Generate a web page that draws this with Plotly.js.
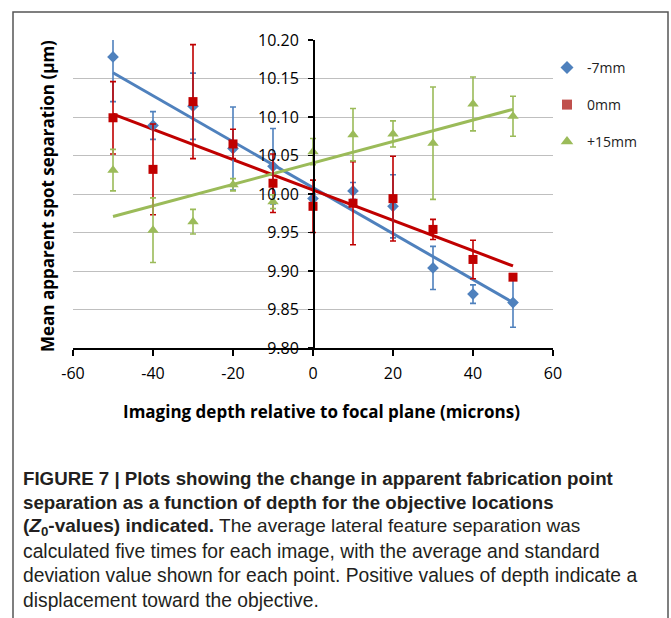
<!DOCTYPE html>
<html>
<head>
<meta charset="utf-8">
<script src="https://cdn.plot.ly/plotly-3.0.1.min.js"></script>
<style>
html,body{margin:0;padding:0;background:#fff;}
#chart{width:671px;height:618px;}
</style>
</head>
<body>
<div id="chart"></div>
<script>
// ---- data ----
const depth = [-50, -40, -30, -20, -10, 0, 10, 20, 30, 40, 50];
const m7Values = [10.178, 10.089, 10.114, 10.059, 10.036, 9.994, 10.004, 9.984, 9.904, 9.870, 9.859];
const m7Errors = [0.058, 0.018, 0.043, 0.054, 0.049, 0.006, 0.011, 0.041, 0.028, 0.012, 0.032];
const z0Values = [10.099, 10.032, 10.120, 10.065, 10.014, 9.984, 9.988, 9.994, 9.954, 9.915, 9.892];
const z0Errors = [0.047, 0.059, 0.074, 0.019, 0.038, 0.034, 0.054, 0.055, 0.013, 0.025, 0.004];
const p15Values = [10.031, 9.953, 9.964, 10.012, 9.990, 10.055, 10.077, 10.078, 10.066, 10.117, 10.101];
const p15Errors = [0.027, 0.042, 0.016, 0.008, 0.009, 0.017, 0.034, 0.017, 0.073, 0.035, 0.026];
const seriesNames = ['-7mm', '0mm', '+15mm'];
const xTickVals = [-60, -40, -20, 0, 20, 40, 60];
const xTickText = ['-60', '-40', '-20', '0', '20', '40', '60'];
const yTickVals = [9.80, 9.85, 9.90, 9.95, 10.00, 10.05, 10.10, 10.15, 10.20];
const captionLines = [
  '<b>FIGURE 7 | Plots showing the change in apparent fabrication point</b>',
  '<b>separation as a function of depth for the objective locations</b>',
  '<b>(<i>Z</i><sub>0</sub>-values) indicated.</b> The average lateral feature separation was',
  'calculated five times for each image, with the average and standard',
  'deviation value shown for each point. Positive values of depth indicate a',
  'displacement toward the objective.'
];
const captionSizes = [18.7, 18.7, 19, 19.3, 19.3, 19.3];

// least-squares linear trendline (as Excel computes it)
function fit(xs, ys) {
  const n = xs.length;
  const mx = xs.reduce((a, b) => a + b, 0) / n;
  const my = ys.reduce((a, b) => a + b, 0) / n;
  let sxy = 0, sxx = 0;
  for (let i = 0; i < n; i++) { sxy += (xs[i] - mx) * (ys[i] - my); sxx += (xs[i] - mx) ** 2; }
  const b = sxy / sxx, a = my - b * mx;
  const x0 = xs[0], x1 = xs[n - 1];
  return { x: [x0, x1], y: [a + b * x0, a + b * x1] };
}

const blue = '#4f81bd', red = '#c00000', green = '#9bbb59';
const sets = [
  { v: m7Values, e: m7Errors, c: blue, sym: 'diamond', size: 9, leg: blue, legend: 'legend' },
  { v: z0Values, e: z0Errors, c: red, sym: 'square', size: 9, leg: '#c0504d', legend: 'legend2' },
  { v: p15Values, e: p15Errors, c: green, sym: 'triangle-up', size: 10, leg: green, legend: 'legend3' }
];

const traces = [];
sets.forEach((s, i) => {
  const f = fit(depth, s.v);
  traces.push({
    x: f.x, y: f.y, mode: 'lines', type: 'scatter', showlegend: false, hoverinfo: 'skip',
    line: { color: s.c, width: 3 }
  });
});
sets.forEach((s, i) => {
  traces.push({
    x: depth, y: s.v, mode: 'markers', type: 'scatter', name: seriesNames[i], showlegend: false,
    marker: { symbol: s.sym, size: s.size, color: s.c },
    error_y: { type: 'data', array: s.e, visible: true, color: s.c, thickness: 1.6, width: 3 }
  });
});
sets.forEach((s, i) => {
  traces.push({
    x: [null], y: [null], mode: 'markers', type: 'scatter', name: seriesNames[i], legend: s.legend,
    marker: { symbol: s.sym, size: s.size + 1, color: s.leg }
  });
});

const L = 73, T = 40, W = 480, H = 308;
const px = x => (x - L) / W;
const py = y => (T + H - y) / H;

const legendBase = { xanchor: 'left', yanchor: 'middle', bgcolor: 'rgba(0,0,0,0)',
  font: { family: 'Open Sans', size: 14, color: '#222' } };

const annotations = [
  { text: '<b>Mean apparent spot separation (µm)</b>', xref: 'paper', yref: 'paper',
    x: px(47), y: py(196), textangle: -90, showarrow: false, xanchor: 'center', yanchor: 'middle',
    font: { family: 'Open Sans', size: 17, color: '#000' } },
  { text: '<b>Imaging depth relative to focal plane (microns)</b>', xref: 'paper', yref: 'paper',
    x: px(321), y: py(411), showarrow: false, xanchor: 'center', yanchor: 'middle',
    font: { family: 'Open Sans', size: 17, color: '#000' } }
];
const lineY = [478, 502.4, 526.8, 551.2, 575.6, 600];
captionLines.forEach((t, i) => {
  annotations.push({ text: t, xref: 'paper', yref: 'paper', x: px(21), y: py(lineY[i]),
    xanchor: 'left', yanchor: 'middle', showarrow: false, align: 'left',
    font: { family: 'Liberation Sans', size: captionSizes[i], color: '#231f20' } });
});

const layout = {
  width: 671, height: 618,
  margin: { l: L, r: 671 - L - W, t: T, b: 618 - T - H, pad: 0 },
  paper_bgcolor: '#fff', plot_bgcolor: '#fff',
  showlegend: true,
  xaxis: {
    range: [-60, 60], tickvals: xTickVals, ticktext: xTickText, showgrid: false, zeroline: false,
    showline: true, linecolor: '#000', linewidth: 1.5, ticks: 'outside', ticklen: 6, tickcolor: '#000',
    tickwidth: 1.5, tickfont: { family: 'Open Sans', size: 16, color: '#000' }, ticklabelstandoff: 4
  },
  yaxis: {
    range: [9.80, 10.20], tickvals: yTickVals, tickformat: '.2f', anchor: 'free', position: 0.5,
    showgrid: true, gridcolor: '#bfbfbf', gridwidth: 1, zeroline: false,
    showline: true, linecolor: '#000', linewidth: 1.5, ticks: 'outside', ticklen: 5, tickcolor: '#000',
    tickwidth: 1.5, tickfont: { family: 'Open Sans', size: 16, color: '#000' }, ticklabelstandoff: 6
  },
  legend: Object.assign({ x: px(547), y: py(68) }, legendBase),
  legend2: Object.assign({ x: px(547), y: py(105) }, legendBase),
  legend3: Object.assign({ x: px(547), y: py(142) }, legendBase),
  annotations: annotations,
  shapes: [
    { type: 'rect', xref: 'paper', yref: 'paper', x0: px(13), x1: px(668), y0: py(640), y1: py(12),
      line: { color: '#555', width: 1.5 }, fillcolor: 'rgba(0,0,0,0)', layer: 'below' }
  ]
};

Plotly.newPlot('chart', traces, layout, { displayModeBar: false, staticPlot: true });
</script>
</body>
</html>
